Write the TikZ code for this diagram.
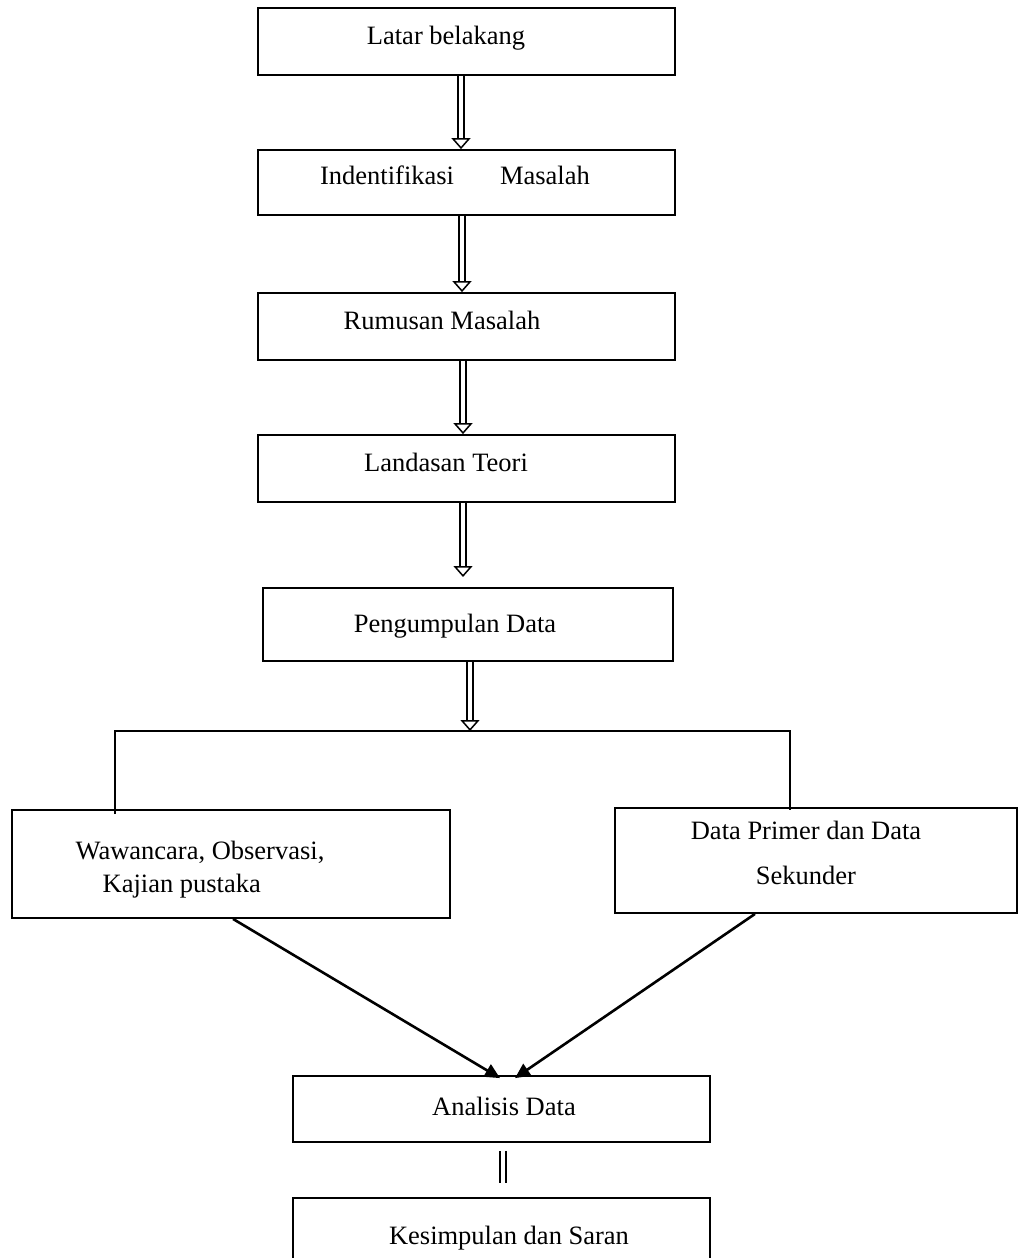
\documentclass[tikz,border=0pt]{standalone}
\usepackage{fontspec}
\setmainfont{Liberation Serif}
\usetikzlibrary{arrows.meta}

\begin{document}
\begin{tikzpicture}[x=1pt,y=-1pt,
    box/.style={draw,line width=1.8pt,inner sep=0pt,minimum width=417pt},
    txt/.style={inner sep=0pt,font=\fontsize{26.5}{33}\selectfont},
    dblarrow/.style={double,double distance=4.5pt,line width=1.3pt,
        -{Triangle[open,length=11pt,width=19pt,line width=1.5pt]}},
    dblbar/.style={double,double distance=4.5pt,line width=1.3pt},
    diag/.style={line width=2.6pt,-{Triangle[length=15pt,width=14pt]}}]
    \useasboundingbox (0,0) rectangle (1019,1258);
    % boxes
    \node[box,minimum height=67pt] (latar) at (466.5,41.5) {};
    \node[box,minimum height=65pt] (ident) at (466.5,182.5) {};
    \node[box,minimum height=67pt] (rumus) at (466.5,326.5) {};
    \node[box,minimum height=67pt] (landas) at (466.5,468.5) {};
    \node[box,minimum width=410pt,minimum height=73pt] (kumpul) at (468,624.5) {};
    \node[box,minimum width=438pt,minimum height=108pt] (waw) at (231,864) {};
    \node[box,minimum width=402pt,minimum height=105pt] (dat) at (816,860.5) {};
    \node[box,minimum height=66pt] (anal) at (501.5,1109) {};
    \node[box,minimum height=76pt] (kesim) at (501.5,1236) {};
    % texts
    \node[txt,anchor=base] (tlatar) at (446,44) {Latar belakang};
    \node[txt,anchor=base] (tident) at (455,184) {Indentifikasi\hspace{46pt}Masalah};
    \node[txt,anchor=base] (trumus) at (442,329) {Rumusan Masalah};
    \node[txt,anchor=base] (tlandas) at (446,471) {Landasan Teori};
    \node[txt,anchor=base] (tkumpul) at (455,632) {Pengumpulan Data};
    \node[txt,align=left] (twaw) at (200,870) {Wawancara, Observasi,\\\hspace*{27pt}Kajian pustaka};
    \node[txt,align=center] (tdat) at (806,853) {Data Primer dan Data\\[12pt]Sekunder};
    \node[txt,anchor=base] (tanal) at (504,1115) {Analisis Data};
    \node[txt,anchor=base] (tkesim) at (509,1244) {Kesimpulan dan Saran};
    % connectors
    \draw[dblarrow] (latar.south -| 461,0) -- (ident.north -| 461,0);
    \draw[dblarrow] (ident.south -| 462,0) -- (rumus.north -| 462,0);
    \draw[dblarrow] (rumus.south -| 463,0) -- (landas.north -| 463,0);
    \draw[dblarrow] (landas.south -| 463,0) -- (463,577);
    \coordinate (split) at (470,731);
    \draw[dblarrow] (kumpul.south -| split) -- (split);
    \draw[line width=1.3pt] ([yshift=-5pt]waw.north -| 115,0) -- (115,731) -- (790,731)
        -- ([yshift=-3pt]dat.north -| 790,0);
    \draw[diag] (waw.south -| 233,0) -- ([yshift=-3pt]anal.north -| 500,0);
    \draw[diag] (dat.south -| 755,0) -- ([yshift=-3pt]anal.north -| 515,0);
    \draw[dblbar] ([yshift=-8pt]anal.south -| 503,0) -- ([yshift=14pt]kesim.north -| 503,0);
\end{tikzpicture}
\end{document}
